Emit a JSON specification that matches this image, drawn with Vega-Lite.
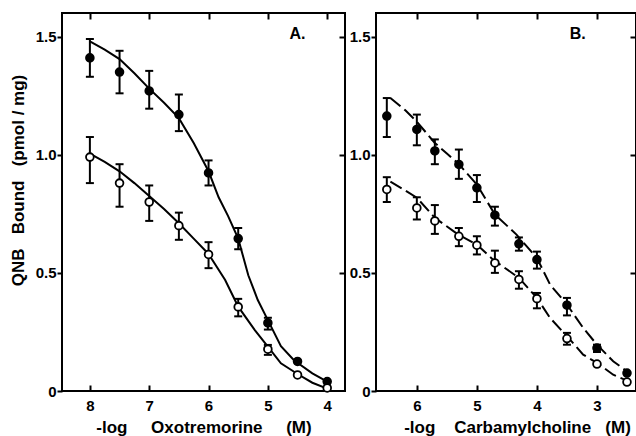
{
  "$schema": "https://vega.github.io/schema/vega-lite/v6.json",
  "padding": {"left": 8, "top": 11, "right": 0, "bottom": 0},
  "spacing": 1,
  "background": "white",
  "datasets": {
    "pointsA": [
      {"s": "filled", "x": 8, "y": 1.41, "lo": 1.33, "hi": 1.49},
      {"s": "filled", "x": 7.5, "y": 1.35, "lo": 1.26, "hi": 1.44},
      {"s": "filled", "x": 7, "y": 1.27, "lo": 1.195, "hi": 1.355},
      {"s": "filled", "x": 6.5, "y": 1.17, "lo": 1.10, "hi": 1.255},
      {"s": "filled", "x": 6, "y": 0.923, "lo": 0.87, "hi": 0.976},
      {"s": "filled", "x": 5.5, "y": 0.645, "lo": 0.60, "hi": 0.69},
      {"s": "filled", "x": 5, "y": 0.288, "lo": 0.26, "hi": 0.31},
      {"s": "filled", "x": 4.5, "y": 0.125},
      {"s": "filled", "x": 4, "y": 0.04},
      {"s": "open", "x": 8, "y": 0.99, "lo": 0.88, "hi": 1.075},
      {"s": "open", "x": 7.5, "y": 0.88, "lo": 0.78, "hi": 0.96},
      {"s": "open", "x": 7, "y": 0.80, "lo": 0.72, "hi": 0.87},
      {"s": "open", "x": 6.5, "y": 0.70, "lo": 0.64, "hi": 0.755},
      {"s": "open", "x": 6, "y": 0.578, "lo": 0.52, "hi": 0.63},
      {"s": "open", "x": 5.5, "y": 0.356, "lo": 0.316, "hi": 0.39},
      {"s": "open", "x": 5, "y": 0.177, "lo": 0.153, "hi": 0.195},
      {"s": "open", "x": 4.5, "y": 0.068},
      {"s": "open", "x": 4, "y": 0.013}
    ],
    "pointsB": [
      {"s": "filled", "x": 6.5, "y": 1.164, "lo": 1.075, "hi": 1.24},
      {"s": "filled", "x": 6.0, "y": 1.107, "lo": 1.04, "hi": 1.17},
      {"s": "filled", "x": 5.7, "y": 1.016, "lo": 0.96, "hi": 1.065},
      {"s": "filled", "x": 5.3, "y": 0.959, "lo": 0.898, "hi": 1.022},
      {"s": "filled", "x": 5.0, "y": 0.86, "lo": 0.80, "hi": 0.914},
      {"s": "filled", "x": 4.7, "y": 0.744, "lo": 0.70, "hi": 0.78},
      {"s": "filled", "x": 4.3, "y": 0.623, "lo": 0.594, "hi": 0.65},
      {"s": "filled", "x": 4.0, "y": 0.556, "lo": 0.518, "hi": 0.59},
      {"s": "filled", "x": 3.5, "y": 0.363, "lo": 0.32, "hi": 0.394},
      {"s": "filled", "x": 3.0, "y": 0.182, "lo": 0.165, "hi": 0.196},
      {"s": "filled", "x": 2.5, "y": 0.076},
      {"s": "open", "x": 6.5, "y": 0.853, "lo": 0.80, "hi": 0.905},
      {"s": "open", "x": 6.0, "y": 0.775, "lo": 0.726, "hi": 0.82},
      {"s": "open", "x": 5.7, "y": 0.72, "lo": 0.665, "hi": 0.787},
      {"s": "open", "x": 5.3, "y": 0.655, "lo": 0.613, "hi": 0.69},
      {"s": "open", "x": 5.0, "y": 0.617, "lo": 0.578, "hi": 0.655},
      {"s": "open", "x": 4.7, "y": 0.542, "lo": 0.50, "hi": 0.594},
      {"s": "open", "x": 4.3, "y": 0.472, "lo": 0.433, "hi": 0.507},
      {"s": "open", "x": 4.0, "y": 0.391, "lo": 0.35, "hi": 0.415},
      {"s": "open", "x": 3.5, "y": 0.222, "lo": 0.196, "hi": 0.246},
      {"s": "open", "x": 3.0, "y": 0.114},
      {"s": "open", "x": 2.5, "y": 0.038}
    ],
    "curveA": [
      {"s": "filled", "x": 8, "y": 1.48},
      {"s": "filled", "x": 7.75, "y": 1.445},
      {"s": "filled", "x": 7.5, "y": 1.405},
      {"s": "filled", "x": 7.25, "y": 1.345},
      {"s": "filled", "x": 7, "y": 1.28},
      {"s": "filled", "x": 6.75, "y": 1.22},
      {"s": "filled", "x": 6.5, "y": 1.155},
      {"s": "filled", "x": 6.25, "y": 1.05},
      {"s": "filled", "x": 6, "y": 0.93},
      {"s": "filled", "x": 5.83, "y": 0.82},
      {"s": "filled", "x": 5.67, "y": 0.74},
      {"s": "filled", "x": 5.5, "y": 0.645},
      {"s": "filled", "x": 5.33, "y": 0.49},
      {"s": "filled", "x": 5.17, "y": 0.385},
      {"s": "filled", "x": 5, "y": 0.30},
      {"s": "filled", "x": 4.78, "y": 0.19},
      {"s": "filled", "x": 4.56, "y": 0.13},
      {"s": "filled", "x": 4.25, "y": 0.075},
      {"s": "filled", "x": 4, "y": 0.04},
      {"s": "open", "x": 8, "y": 1.005},
      {"s": "open", "x": 7.75, "y": 0.97},
      {"s": "open", "x": 7.5, "y": 0.93},
      {"s": "open", "x": 7.25, "y": 0.88},
      {"s": "open", "x": 7, "y": 0.825},
      {"s": "open", "x": 6.75, "y": 0.77},
      {"s": "open", "x": 6.5, "y": 0.71},
      {"s": "open", "x": 6.25, "y": 0.645},
      {"s": "open", "x": 6, "y": 0.58},
      {"s": "open", "x": 5.72, "y": 0.47},
      {"s": "open", "x": 5.5, "y": 0.357},
      {"s": "open", "x": 5.22, "y": 0.258},
      {"s": "open", "x": 5, "y": 0.188},
      {"s": "open", "x": 4.78, "y": 0.117},
      {"s": "open", "x": 4.5, "y": 0.072},
      {"s": "open", "x": 4.25, "y": 0.035},
      {"s": "open", "x": 4, "y": 0.01}
    ],
    "curveB": [
      {"s": "filled", "x": 6.44, "y": 1.24},
      {"s": "filled", "x": 6.2, "y": 1.19},
      {"s": "filled", "x": 6.0, "y": 1.14},
      {"s": "filled", "x": 5.7, "y": 1.05},
      {"s": "filled", "x": 5.5, "y": 1.005},
      {"s": "filled", "x": 5.3, "y": 0.96},
      {"s": "filled", "x": 5.0, "y": 0.874},
      {"s": "filled", "x": 4.7, "y": 0.747},
      {"s": "filled", "x": 4.5, "y": 0.70},
      {"s": "filled", "x": 4.34, "y": 0.662},
      {"s": "filled", "x": 4.0, "y": 0.563},
      {"s": "filled", "x": 3.78, "y": 0.45},
      {"s": "filled", "x": 3.5, "y": 0.366},
      {"s": "filled", "x": 3.23, "y": 0.267},
      {"s": "filled", "x": 3.0, "y": 0.196},
      {"s": "filled", "x": 2.73, "y": 0.126},
      {"s": "filled", "x": 2.5, "y": 0.083},
      {"s": "open", "x": 6.44, "y": 0.886},
      {"s": "open", "x": 6.2, "y": 0.85},
      {"s": "open", "x": 6.0, "y": 0.818},
      {"s": "open", "x": 5.7, "y": 0.733},
      {"s": "open", "x": 5.31, "y": 0.662},
      {"s": "open", "x": 5.0, "y": 0.62},
      {"s": "open", "x": 4.73, "y": 0.556},
      {"s": "open", "x": 4.3, "y": 0.479},
      {"s": "open", "x": 4.0, "y": 0.394},
      {"s": "open", "x": 3.78, "y": 0.309},
      {"s": "open", "x": 3.5, "y": 0.232},
      {"s": "open", "x": 3.23, "y": 0.154},
      {"s": "open", "x": 3.0, "y": 0.119},
      {"s": "open", "x": 2.73, "y": 0.069},
      {"s": "open", "x": 2.5, "y": 0.044}
    ],
    "labels": [
      {"panel": "A", "x": 4.5, "y": 1.51, "label": "A."},
      {"panel": "B", "x": 3.32, "y": 1.51, "label": "B."}
    ]
  },
  "config": {
    "view": {"stroke": "black", "strokeWidth": 2},
    "axis": {
      "grid": false,
      "domain": false,
      "tickColor": "black",
      "tickWidth": 2,
      "labelColor": "black",
      "labelFont": "Liberation Sans",
      "labelFontSize": 15,
      "labelFontWeight": "bold",
      "titleColor": "black",
      "titleFont": "Liberation Sans",
      "titleFontSize": 17,
      "titleFontWeight": "bold"
    }
  },
  "hconcat": [
    {
      "width": 283,
      "height": 378,
      "resolve": {"axis": {"x": "independent", "y": "independent"}},
      "layer": [
        {
          "data": {"name": "curveA"},
          "mark": {"type": "line", "color": "black", "strokeWidth": 2},
          "encoding": {
            "x": {"field": "x", "type": "quantitative", "scale": {"domain": [3.7, 8.47], "reverse": true, "nice": false, "zero": false},
                  "axis": {"orient": "bottom", "values": [4, 5, 6, 7, 8], "format": "d", "tickSize": -6, "labelPadding": 13, "title": "-log\u00a0\u00a0\u00a0\u00a0\u00a0Oxotremorine\u00a0\u00a0\u00a0\u00a0\u00a0(M)", "titlePadding": 6}},
            "y": {"field": "y", "type": "quantitative", "scale": {"domain": [0, 1.6], "nice": false, "zero": false},
                  "axis": {"orient": "left", "values": [0, 0.5, 1, 1.5], "tickSize": 5, "labelPadding": 1, "labelExpr": "datum.value == 0 ? '0' : format(datum.value, '.1f')", "title": "QNB\u00a0\u00a0\u00a0Bound\u00a0\u00a0\u00a0(pmol\u00a0/\u00a0mg)", "titlePadding": 8, "titleY": 167}},
            "detail": {"field": "s"}
          }
        },
        {
          "data": {"name": "pointsA"},
          "transform": [{"filter": "isValid(datum.lo)"}],
          "mark": {"type": "rule", "color": "black", "strokeWidth": 2},
          "encoding": {
            "x": {"field": "x", "type": "quantitative", "scale": {"domain": [3.7, 8.47], "reverse": true, "nice": false, "zero": false}, "axis": null},
            "y": {"field": "lo", "type": "quantitative", "scale": {"domain": [0, 1.6], "nice": false, "zero": false}, "axis": null},
            "y2": {"field": "hi"}
          }
        },
        {
          "data": {"name": "pointsA"},
          "transform": [{"filter": "isValid(datum.lo)"}, {"fold": ["lo", "hi"], "as": ["end", "v"]}],
          "mark": {"type": "point", "shape": "stroke", "size": 64, "color": "black", "strokeWidth": 2, "opacity": 1},
          "encoding": {
            "x": {"field": "x", "type": "quantitative", "scale": {"domain": [3.7, 8.47], "reverse": true, "nice": false, "zero": false}, "axis": null},
            "y": {"field": "v", "type": "quantitative", "scale": {"domain": [0, 1.6], "nice": false, "zero": false}, "axis": null}
          }
        },
        {
          "data": {"name": "pointsA"},
          "mark": {"type": "point", "shape": "circle", "size": 60, "stroke": "black", "strokeWidth": 1.8, "filled": true, "opacity": 1},
          "encoding": {
            "x": {"field": "x", "type": "quantitative", "scale": {"domain": [3.7, 8.47], "reverse": true, "nice": false, "zero": false},
                  "axis": {"orient": "top", "values": [4, 5, 6, 7, 8], "labels": false, "tickSize": -6, "title": null}},
            "y": {"field": "y", "type": "quantitative", "scale": {"domain": [0, 1.6], "nice": false, "zero": false},
                  "axis": {"orient": "right", "values": [0.5, 1, 1.5], "labels": false, "tickSize": -6, "title": null}},
            "fill": {"field": "s", "type": "nominal", "scale": {"domain": ["filled", "open"], "range": ["black", "white"]}, "legend": null}
          }
        },
        {
          "data": {"name": "labels"},
          "transform": [{"filter": "datum.panel == 'A'"}],
          "mark": {"type": "text", "font": "Liberation Sans", "fontSize": 16, "fontWeight": "bold", "color": "black"},
          "encoding": {
            "x": {"field": "x", "type": "quantitative", "scale": {"domain": [3.7, 8.47], "reverse": true, "nice": false, "zero": false}, "axis": null},
            "y": {"field": "y", "type": "quantitative", "scale": {"domain": [0, 1.6], "nice": false, "zero": false}, "axis": null},
            "text": {"field": "label"}
          }
        }
      ]
    },
    {
      "width": 260,
      "height": 378,
      "resolve": {"axis": {"x": "independent", "y": "independent"}},
      "layer": [
        {
          "data": {"name": "curveB"},
          "mark": {"type": "line", "color": "black", "strokeWidth": 2, "strokeDash": [13, 5]},
          "encoding": {
            "x": {"field": "x", "type": "quantitative", "scale": {"domain": [2.35, 6.68], "reverse": true, "nice": false, "zero": false},
                  "axis": {"orient": "bottom", "values": [3, 4, 5, 6], "format": "d", "tickSize": -6, "labelPadding": 13, "title": "-log\u00a0\u00a0\u00a0\u00a0Carbamylcholine\u00a0\u00a0\u00a0(M)", "titlePadding": 6, "titleX": 141}},
            "y": {"field": "y", "type": "quantitative", "scale": {"domain": [0, 1.6], "nice": false, "zero": false},
                  "axis": {"orient": "left", "values": [0, 0.5, 1, 1.5], "tickSize": 5, "labelPadding": 1, "labelExpr": "datum.value == 0 ? '0' : format(datum.value, '.1f')", "title": null}},
            "detail": {"field": "s"}
          }
        },
        {
          "data": {"name": "pointsB"},
          "transform": [{"filter": "isValid(datum.lo)"}],
          "mark": {"type": "rule", "color": "black", "strokeWidth": 2},
          "encoding": {
            "x": {"field": "x", "type": "quantitative", "scale": {"domain": [2.35, 6.68], "reverse": true, "nice": false, "zero": false}, "axis": null},
            "y": {"field": "lo", "type": "quantitative", "scale": {"domain": [0, 1.6], "nice": false, "zero": false}, "axis": null},
            "y2": {"field": "hi"}
          }
        },
        {
          "data": {"name": "pointsB"},
          "transform": [{"filter": "isValid(datum.lo)"}, {"fold": ["lo", "hi"], "as": ["end", "v"]}],
          "mark": {"type": "point", "shape": "stroke", "size": 64, "color": "black", "strokeWidth": 2, "opacity": 1},
          "encoding": {
            "x": {"field": "x", "type": "quantitative", "scale": {"domain": [2.35, 6.68], "reverse": true, "nice": false, "zero": false}, "axis": null},
            "y": {"field": "v", "type": "quantitative", "scale": {"domain": [0, 1.6], "nice": false, "zero": false}, "axis": null}
          }
        },
        {
          "data": {"name": "pointsB"},
          "mark": {"type": "point", "shape": "circle", "size": 60, "stroke": "black", "strokeWidth": 1.8, "filled": true, "opacity": 1},
          "encoding": {
            "x": {"field": "x", "type": "quantitative", "scale": {"domain": [2.35, 6.68], "reverse": true, "nice": false, "zero": false},
                  "axis": {"orient": "top", "values": [3, 4, 5, 6], "labels": false, "tickSize": -6, "title": null}},
            "y": {"field": "y", "type": "quantitative", "scale": {"domain": [0, 1.6], "nice": false, "zero": false},
                  "axis": {"orient": "right", "values": [0.5, 1, 1.5], "labels": false, "tickSize": -6, "title": null}},
            "fill": {"field": "s", "type": "nominal", "scale": {"domain": ["filled", "open"], "range": ["black", "white"]}, "legend": null}
          }
        },
        {
          "data": {"name": "labels"},
          "transform": [{"filter": "datum.panel == 'B'"}],
          "mark": {"type": "text", "font": "Liberation Sans", "fontSize": 16, "fontWeight": "bold", "color": "black"},
          "encoding": {
            "x": {"field": "x", "type": "quantitative", "scale": {"domain": [2.35, 6.68], "reverse": true, "nice": false, "zero": false}, "axis": null},
            "y": {"field": "y", "type": "quantitative", "scale": {"domain": [0, 1.6], "nice": false, "zero": false}, "axis": null},
            "text": {"field": "label"}
          }
        }
      ]
    }
  ]
}
